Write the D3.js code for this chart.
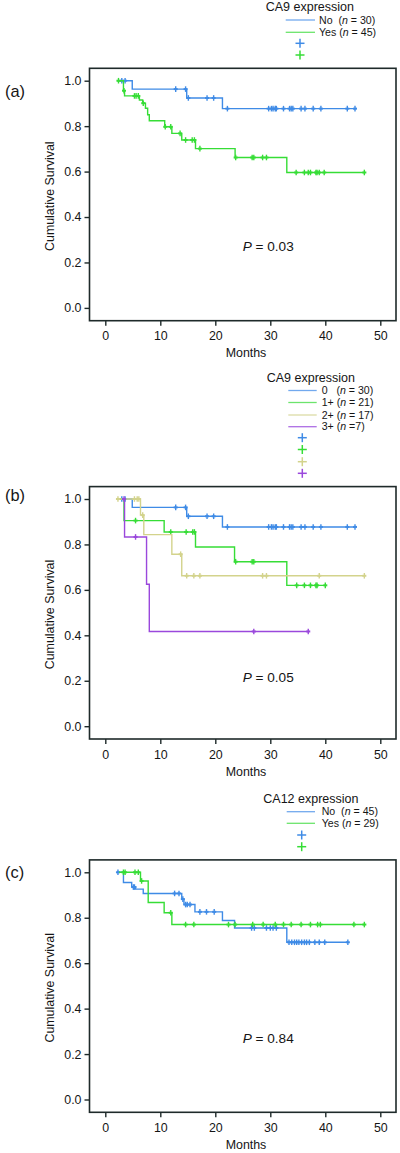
<!DOCTYPE html>
<html><head><meta charset="utf-8">
<script src="https://cdn.jsdelivr.net/npm/d3@7/dist/d3.min.js"></script>
<style>
body{margin:0;background:#fff}
svg{display:block}
text{font-family:"Liberation Sans",Arial,sans-serif;fill:#151515;white-space:pre}
</style>
</head><body>
<svg id="chart" width="400" height="1153"></svg>
<script>
// ---------- axis ticks ----------
const monthTicks = [0, 10, 20, 30, 40, 50];
const survTicks = [0, 0.2, 0.4, 0.6, 0.8, 1.0];

// ---------- panel (a): CA9 expression No / Yes ----------
const aNoTime = [2.4, 4.9, 14.8, 21.3];
const aNoSurv = [1.0, 0.963, 0.924, 0.877];
const aNoCens = [3.0, 3.6, 12.8, 14.6, 15.1, 18.5, 19.7, 22.2, 29.7, 30.2, 30.5, 30.9, 31.1, 32.4, 33.5, 33.8, 34.1, 35.6, 36.3, 37.8, 39.2, 44.0, 45.4];
const aYesTime = [2.1, 3.3, 3.5, 6.2, 6.8, 7.3, 7.7, 8.0, 10.8, 12.1, 13.9, 16.4, 23.6, 33.0];
const aYesSurv = [1.0, 0.956, 0.933, 0.915, 0.901, 0.879, 0.850, 0.824, 0.797, 0.768, 0.739, 0.701, 0.662, 0.596];
const aYesCens = [2.4, 3.4, 5.3, 5.6, 6.0, 6.9, 10.9, 11.9, 13.6, 14.6, 15.8, 16.2, 17.2, 23.7, 26.7, 27.0, 28.6, 29.3, 34.7, 36.2, 36.9, 37.3, 38.3, 38.5, 38.9, 39.8, 47.1];

// ---------- panel (b): CA9 expression 0 / 1+ / 2+ / 3+ ----------
const b0Time = [2.4, 4.9, 14.8, 21.3];
const b0Surv = [1.0, 0.963, 0.924, 0.877];
const b0Cens = [3.0, 3.6, 12.8, 14.6, 15.1, 18.5, 19.7, 22.2, 29.7, 30.2, 30.5, 30.9, 31.1, 32.4, 33.5, 33.8, 34.1, 35.6, 36.3, 37.8, 39.2, 44.0, 45.4];
const b1Time = [2.6, 3.4, 10.7, 16.4, 23.5, 33.0];
const b1Surv = [1.0, 0.905, 0.855, 0.789, 0.724, 0.620];
const b1Cens = [5.5, 11.9, 14.7, 15.9, 16.2, 23.7, 26.7, 27.0, 34.8, 36.2, 37.3, 38.3, 38.5, 40.0];
const b2Time = [2.1, 6.4, 7.0, 12.1, 13.9];
const b2Surv = [1.0, 0.929, 0.843, 0.757, 0.662];
const b2Cens = [2.3, 5.3, 5.8, 6.1, 6.8, 13.7, 14.8, 16.1, 17.2, 28.6, 29.3, 38.9, 47.1];
const b3Time = [3.2, 3.5, 7.5, 8.0];
const b3Surv = [1.0, 0.833, 0.625, 0.417];
const b3Cens = [3.4, 5.5, 27.0, 36.9];

// ---------- panel (c): CA12 expression No / Yes ----------
const cNoTime = [2.1, 3.3, 4.8, 5.5, 6.9, 13.9, 14.3, 16.3, 21.3, 23.5, 33.0];
const cNoSurv = [1.0, 0.955, 0.935, 0.926, 0.907, 0.882, 0.858, 0.826, 0.788, 0.755, 0.692];
const cNoCens = [2.3, 5.1, 5.3, 12.6, 13.4, 14.1, 14.6, 14.9, 15.4, 17.2, 18.4, 19.8, 26.6, 27.1, 29.3, 30.0, 30.5, 31.1, 33.4, 33.9, 34.4, 34.8, 35.2, 35.7, 36.2, 36.6, 37.1, 38.1, 38.9, 39.9, 44.1];
const cYesTime = [2.5, 6.4, 7.8, 10.7, 12.1];
const cYesSurv = [1.0, 0.962, 0.867, 0.822, 0.770];
const cYesCens = [3.3, 3.6, 5.4, 6.0, 6.6, 11.9, 14.6, 16.1, 22.4, 23.6, 26.8, 28.7, 30.9, 32.4, 33.8, 35.6, 37.3, 38.6, 39.1, 45.2, 47.1];

// ---------- legend labels ----------
const aLabels = ["No  (", "Yes ("]; const aN = ["30", "45"];
const bLabels = ["0   (", "1+ (", "2+ (", "3+ ("]; const bN = ["30", "21", "17", "7"];
const cLabels = ["No  (", "Yes ("]; const cN = ["45", "29"];

// ---------- styling ----------
const BLUE = "#3f8be6", GREEN = "#36dd36", KHAKI = "#d3d38c", PURPLE = "#9a48dc";
const LBLUE = "#72a9ee", LGREEN = "#6ce46c", LKHAKI = "#dcdca6", LPURPLE = "#ad6ee4";
const FRAME = "#1e2a2a";

const svg = d3.select("#chart");

function drawPanel(cfg) {
  const g = svg.append("g");
  const x = d3.scaleLinear().domain([0, 50]).range([105.3, 380.3]);
  const y = d3.scaleLinear().domain([0, 1]).range([cfg.y0 + 227.2, cfg.y0]);
  const left = 89.5, right = 396, top = cfg.y0 - 12.4, bottom = cfg.y0 + 240;

  // y axis
  const ya = g.append("g").attr("transform", `translate(${left},0)`)
    .call(d3.axisLeft(y).tickValues(survTicks).tickFormat(d3.format(".1f")).tickSize(5).tickPadding(3));
  ya.select(".domain").remove();
  ya.selectAll("line").attr("stroke", FRAME).attr("stroke-width", 1.4);
  ya.selectAll("text").attr("font-size", 12.4).attr("fill", "#151515").attr("font-family", "Liberation Sans, Arial, sans-serif");

  // x axis
  const xa = g.append("g").attr("transform", `translate(0,${bottom})`)
    .call(d3.axisBottom(x).tickValues(monthTicks).tickFormat(d3.format("d")).tickSize(5).tickPadding(6));
  xa.select(".domain").remove();
  xa.selectAll("line").attr("stroke", FRAME).attr("stroke-width", 1.4);
  xa.selectAll("text").attr("font-size", 12.4).attr("fill", "#151515").attr("font-family", "Liberation Sans, Arial, sans-serif");

  // frame
  g.append("rect").attr("x", left).attr("y", top).attr("width", right - left).attr("height", bottom - top)
    .attr("fill", "none").attr("stroke", FRAME).attr("stroke-width", 1.6);

  // axis titles
  g.append("text").attr("x", 246).attr("y", bottom + 36.7).attr("text-anchor", "middle")
    .attr("font-size", 12.4).text("Months");
  g.append("text").attr("transform", `translate(50,${cfg.y0 + 115.5}) rotate(-90)`)
    .attr("text-anchor", "middle").attr("dy", "0.35em").attr("font-size", 12.4).text("Cumulative Survival");

  // panel letter
  g.append("text").attr("x", 5).attr("y", cfg.letterY).attr("dy", "0.35em").attr("font-size", 16.4).text(cfg.letter);

  // P value
  const pt = g.append("text").attr("x", 242.7).attr("y", cfg.pY).attr("dy", "0.35em").attr("font-size", 13.6);
  pt.append("tspan").attr("font-style", "italic").text("P");
  pt.append("tspan").text(" = " + cfg.p);

  // curves
  const line = d3.line().x(d => x(d[0])).y(d => y(d[1])).curve(d3.curveStepAfter);
  cfg.series.forEach(s => {
    const end = d3.max(s.cens.concat(s.time));
    const pts = s.time.map((t, i) => [t, s.surv[i]]);
    pts.push([end, s.surv[s.surv.length - 1]]);
    g.append("path").attr("d", line(pts)).attr("fill", "none").attr("stroke", s.color)
      .attr("stroke-width", 1.4).attr("stroke-dasharray", s.dash || null);
    const level = t => { let v = s.surv[0]; s.time.forEach((tt, i) => { if (tt <= t) v = s.surv[i]; }); return v; };
    const cg = g.append("g").attr("stroke", s.color).attr("stroke-width", 1.4);
    s.cens.forEach(t => {
      const cx = x(t), cy = y(level(t));
      cg.append("line").attr("x1", cx).attr("x2", cx).attr("y1", cy - 2.8).attr("y2", cy + 2.8);
      cg.append("line").attr("x1", cx - 2).attr("x2", cx + 2).attr("y1", cy).attr("y2", cy).attr("stroke-width", 2);
    });
  });

  // legend
  const L = cfg.legend;
  g.append("text").attr("x", L.titleX).attr("y", L.titleY).attr("font-size", 12.5).text(L.title);
  L.labels.forEach((lab, i) => {
    const ly = L.rowY[i];
    g.append("line").attr("x1", L.lineX0).attr("x2", L.lineX1).attr("y1", ly).attr("y2", ly)
      .attr("stroke", L.colors[i]).attr("stroke-width", 1.3);
    const t = g.append("text").attr("x", L.textX).attr("y", ly + 3.6).attr("font-size", 10.6);
    t.append("tspan").text(lab);
    t.append("tspan").attr("font-style", "italic").text("n");
    t.append("tspan").text((L.tight && i === L.labels.length - 1 ? " =" : " = ") + L.n[i] + ")");
  });
  L.markY.forEach((my, i) => {
    g.append("line").attr("x1", L.markX - 4.5).attr("x2", L.markX + 4.5).attr("y1", my).attr("y2", my)
      .attr("stroke", cfg.series[i].color).attr("stroke-width", 1.5);
    g.append("line").attr("x1", L.markX).attr("x2", L.markX).attr("y1", my - 4.5).attr("y2", my + 4.5)
      .attr("stroke", cfg.series[i].color).attr("stroke-width", 1.5);
  });
}

drawPanel({
  y0: 80.7, letter: "(a)", letterY: 91, pY: 246.7, p: "0.03",
  series: [
    {time: aNoTime, surv: aNoSurv, cens: aNoCens, color: BLUE},
    {time: aYesTime, surv: aYesSurv, cens: aYesCens, color: GREEN}
  ],
  legend: {title: "CA9 expression", titleX: 265.7, titleY: 10.5, lineX0: 285.7, lineX1: 315, textX: 319,
    labels: aLabels, n: aN, colors: [LBLUE, LGREEN], rowY: [20, 32.3], markX: 300, markY: [43.3, 55]}
});

drawPanel({
  y0: 499, letter: "(b)", letterY: 495.5, pY: 677.5, p: "0.05",
  series: [
    {time: b0Time, surv: b0Surv, cens: b0Cens, color: BLUE},
    {time: b1Time, surv: b1Surv, cens: b1Cens, color: GREEN},
    {time: b2Time, surv: b2Surv, cens: b2Cens, color: KHAKI},
    {time: b3Time, surv: b3Surv, cens: b3Cens, color: PURPLE}
  ],
  legend: {title: "CA9 expression", titleX: 266.7, titleY: 382, lineX0: 288.3, lineX1: 316.7, textX: 321.7, tight: true,
    labels: bLabels, n: bN, colors: [LBLUE, LGREEN, LKHAKI, LPURPLE], rowY: [390.5, 402.5, 415, 426.7],
    markX: 302.3, markY: [437.7, 449.5, 461.7, 473.3]}
});

drawPanel({
  y0: 872.3, letter: "(c)", letterY: 872.5, pY: 1038.7, p: "0.84",
  series: [
    {time: cNoTime, surv: cNoSurv, cens: cNoCens, color: BLUE},
    {time: cYesTime, surv: cYesSurv, cens: cYesCens, color: GREEN}
  ],
  legend: {title: "CA12 expression", titleX: 263.3, titleY: 802.5, lineX0: 286.7, lineX1: 315, textX: 321.7,
    labels: cLabels, n: cN, colors: [LBLUE, LGREEN], rowY: [811.7, 823.3], markX: 301.7, markY: [835, 846.7]}
});
</script>
</body></html>
